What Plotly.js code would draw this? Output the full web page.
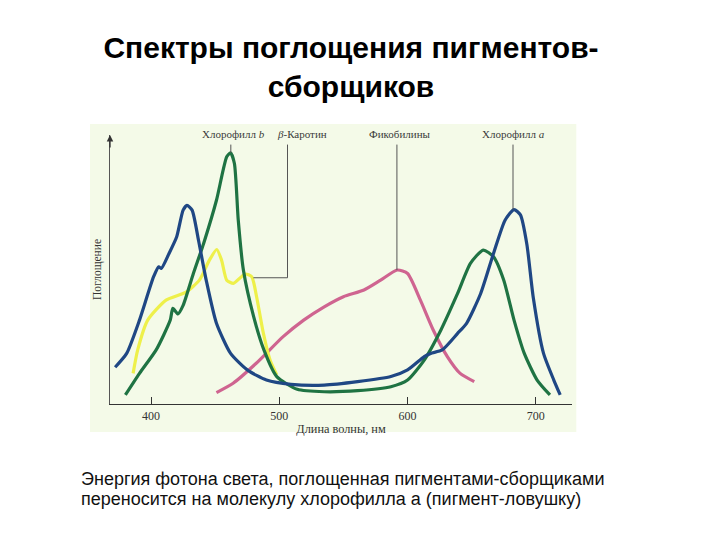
<!DOCTYPE html>
<html>
<head>
<meta charset="utf-8">
<script src="https://cdn.plot.ly/plotly-3.0.1.min.js"></script>
<style>
  html, body { margin: 0; padding: 0; background: #ffffff; }
  #chart { width: 720px; height: 540px; }
</style>
</head>
<body>
<div id="chart"></div>
<script>
// Wavelength (nm) and relative absorption values
const chlA_nm  = [372,381,391,402,406,408,414,420,425,428,432,437,443,451,462,475,490,509,535,561,587,600,613,618,627,639,646,657,667,676,683,688,693,698,706,714,719];
const chlA_val = [13.8,19,31.5,47.8,51.5,50.9,56.5,62.8,72.8,74.6,72.8,61.5,46.5,30.3,19,12.8,9,7.4,7.1,8.4,10.3,12.8,17.8,19,20.3,26.5,30.3,41.5,56.5,69,73,71,60,40,19,9,3.4];

const chlB_nm  = [380,391,404,415,417,421,425,433,441,451,459,462,465,468,472,480,488,498,514,535,561,587,600,613,626,639,649,659,667,675,683,691,701,711];
const chlB_val = [3.4,11.5,20.3,31.5,35.9,33.8,37,49,60.3,76.5,92.8,94.3,90.3,69,50.3,32.8,20.3,10.3,5.5,4.6,5,6.5,9,16.5,27.8,41.5,52.8,57.8,55.3,46.5,31.5,19,9,3.4];

const carot_nm  = [386,389.6,397.4,411.7,427.3,437.7,445.5,451.2,455,459,464.2,473.3,478.5,482.4,487.6,492.8,498];
const carot_val = [11.5,20.3,31.5,39,42,46.5,54,58,54,46.5,45.3,48.8,47.8,40,26.5,16.5,10.9];

const phyco_nm  = [451,464,482,503,519,535,550,566,579,592,600,610,620,631,641,652];
const phyco_val = [4.3,7.8,15.3,25.3,31.5,36.5,40.3,42.8,46.5,50.3,49,39,27.8,17.8,11.5,8.4];

// Pigment labels and their leader lines
const labelText = ['Хлорофилл <i>b</i>', '<i>β</i>-Каротин', 'Фикобилины', 'Хлорофилл <i>a</i>'];
const labelX    = [464, 518, 594, 682.4];
const leaderX   = [462.2, 506.4, 591.7, 682.2];
const leaderEnd = [94.3, 47.4, 50.3, 73];
const carotElbowX = 479.8;

const xTicks = [400, 500, 600, 700];
const xRange = [368, 728.2];
const yRange = [0, 101];
const leaderTop = 97.4;

const titleText = 'Спектры поглощения пигментов-<br>сборщиков';
const note1 = 'Энергия фотона света, поглощенная пигментами-сборщиками';
const note2 = 'переносится на молекулу хлорофилла а (пигмент-ловушку)';

function curve(x, y, color) {
  return {
    x: x, y: y, type: 'scatter', mode: 'lines',
    line: { color: color, width: 3.2, shape: 'spline', smoothing: 0.6 },
    hoverinfo: 'skip', showlegend: false
  };
}

const traces = [
  curve(phyco_nm, phyco_val, '#cf6490'),
  curve(carot_nm, carot_val, '#eef04a'),
  curve(chlB_nm, chlB_val, '#1f7343'),
  curve(chlA_nm, chlA_val, '#1f4784')
];

const shapes = [
  { type: 'rect', xref: 'paper', yref: 'paper', x0: -0.0433, x1: 1.0093, y0: -0.104, y1: 1.0409,
    fillcolor: '#f4fae8', line: { width: 0 }, layer: 'below' }
];
for (let i = 0; i < leaderX.length; i++) {
  if (i === 1) {
    shapes.push({ type: 'path', xref: 'x', yref: 'y',
      path: 'M ' + leaderX[i] + ' ' + leaderTop + ' L ' + leaderX[i] + ' ' + leaderEnd[i] + ' L ' + carotElbowX + ' ' + leaderEnd[i],
      line: { color: '#555555', width: 1 } });
  } else {
    shapes.push({ type: 'line', xref: 'x', yref: 'y', x0: leaderX[i], x1: leaderX[i], y0: leaderTop, y1: leaderEnd[i],
      line: { color: '#555555', width: 1 } });
  }
}

const annotations = labelText.map((t, i) => ({
  x: labelX[i], y: 1.0045, xref: 'x', yref: 'paper', text: t, showarrow: false,
  xanchor: 'center', yanchor: 'middle',
  font: { family: 'Liberation Serif', size: 11, color: '#3a3a3a' }
}));
// arrow head on the absorption axis
annotations.push({ x: xRange[0], y: yRange[1], xref: 'x', yref: 'y', text: '', showarrow: true,
  arrowhead: 2, arrowsize: 1, arrowwidth: 1.3, arrowcolor: '#333333', ax: 0, ay: 14, standoff: 0 });
annotations.push({ x: -0.0675, y: -0.2785, xref: 'paper', yref: 'paper', text: note1, showarrow: false,
  xanchor: 'left', yanchor: 'middle', align: 'left',
  font: { family: 'Liberation Sans', size: 18, color: '#111111' } });
annotations.push({ x: -0.0675, y: -0.352, xref: 'paper', yref: 'paper', text: note2, showarrow: false,
  xanchor: 'left', yanchor: 'middle', align: 'left',
  font: { family: 'Liberation Sans', size: 18, color: '#111111' } });

const layout = {
  width: 720, height: 540,
  paper_bgcolor: '#ffffff', plot_bgcolor: 'rgba(0,0,0,0)',
  margin: { l: 110, r: 148.3, t: 135, b: 136, pad: 0 },
  title: { text: titleText, x: 0.4875, xref: 'container', xanchor: 'center',
    y: 0.893, yref: 'container', yanchor: 'top',
    font: { family: 'Liberation Sans', size: 30, color: '#000000', weight: 'bold' } },
  xaxis: {
    range: xRange, tickvals: xTicks, ticktext: xTicks.map(String),
    showline: true, linecolor: '#333333', linewidth: 1.3, mirror: false,
    ticks: 'inside', ticklen: 7, tickcolor: '#333333', tickwidth: 1,
    showgrid: false, zeroline: false,
    tickfont: { family: 'Liberation Serif', size: 12, color: '#333333' },
    title: { text: 'Длина волны, нм', standoff: 2,
      font: { family: 'Liberation Serif', size: 12.3, color: '#333333' } }
  },
  yaxis: {
    range: yRange, showline: true, linecolor: '#555555', linewidth: 1.2,
    showticklabels: false, ticks: '', showgrid: false, zeroline: false,
    title: { text: 'Поглощение', standoff: 4,
      font: { family: 'Liberation Serif', size: 11.5, color: '#333333' } }
  },
  shapes: shapes,
  annotations: annotations,
  showlegend: false
};

Plotly.newPlot('chart', traces, layout, { staticPlot: true, displayModeBar: false });
</script>
</body>
</html>
